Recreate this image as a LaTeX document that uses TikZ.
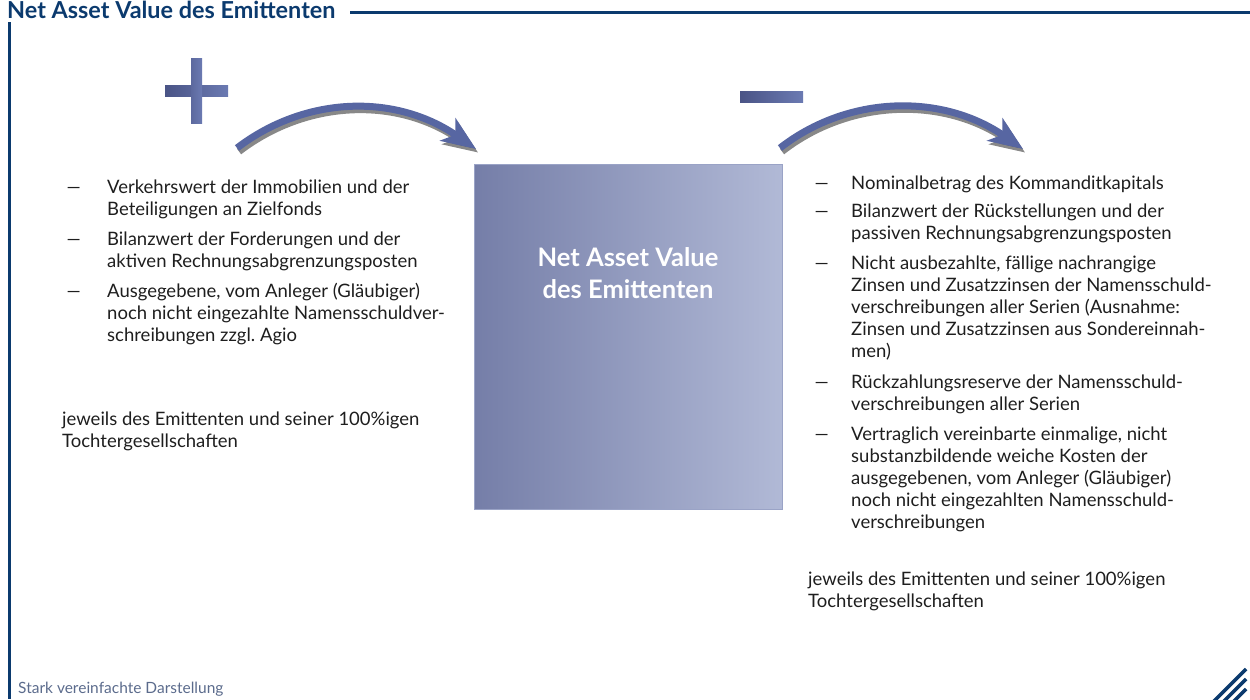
\documentclass[tikz,border=0pt]{standalone}
\usepackage{fontspec}
\setmainfont{Lato}
\usepackage{xcolor}
\usepackage{graphicx}
\usetikzlibrary{arrows.meta, positioning}

\definecolor{navyline}{HTML}{0B3A6E}
\definecolor{arrowblue}{HTML}{5766A2}
\definecolor{barleft}{HTML}{4A5486}
\definecolor{barright}{HTML}{6B7AB2}
\definecolor{boxleft}{HTML}{757EA8}
\definecolor{boxright}{HTML}{B1B9D6}
\definecolor{boxedge}{HTML}{9AA3C6}
\definecolor{bodytext}{HTML}{1E1E1E}
\definecolor{notegray}{HTML}{5B6B8C}

% lines of one item, first baseline is the node's base
\newcommand{\stack}[2][l]{\begin{tabular}[t]{@{}#1@{}}#2\end{tabular}}
\newcommand{\longdash}{\scalebox{1.6}[1]{\textendash}}

\begin{document}
\begin{tikzpicture}[
    x=1pt, y=-1pt,
    title/.style={anchor=base west, inner sep=0pt,
                  font=\fontsize{23.4}{26}\selectfont\bfseries, text=navyline},
    frame/.style={draw=navyline, line width=2.5pt},
    itemtext/.style={anchor=base west, inner sep=0pt,
                     font=\fontsize{18.5}{22}\selectfont, text=bodytext},
    dashmark/.style={itemtext},
    bar/.style={left color=barleft, right color=barright},
    navbox/.style={draw=boxedge, line width=1pt, left color=boxleft, right color=boxright,
                   minimum width=308pt, minimum height=345pt, inner sep=0pt},
    navlabel/.style={anchor=base, inner sep=0pt,
                     font=\fontsize{25.5}{32}\selectfont\bfseries, text=white},
    bigarrow/.style={draw=arrowblue, line width=7pt,
                     -{Stealth[length=34pt, width=27pt, inset=9pt]}},
    arrowshadow/.style={bigarrow, draw=black!85, opacity=0.55,
                        transform canvas={shift={(2pt,-3.5pt)}}},
    note/.style={anchor=base west, inner sep=0pt,
                 font=\fontsize{15.5}{18}\selectfont, text=notegray},
    logo/.style={draw=navyline, line width=3.5pt}
]
\useasboundingbox (0,0) rectangle (1250,699);

% =========================================================
% FRAME: title, rules, note and logo
% =========================================================
\node[title] (title) at (7,18.5) {Net Asset Value des Emittenten};
\draw[frame] (350,12.3) -- (1250,12.3);
\draw[frame] (9.7,22) -- (9.7,699);

\node[note] (note) at (18,693) {Stark vereinfachte Darstellung};

\draw[logo] (1213,702) -- (1246,669);
\draw[logo] (1223,702) -- (1246,679);
\draw[logo] (1233,702) -- (1246,689);

% =========================================================
% CENTRE: the net asset value block
% =========================================================
\node[navbox] (nav) at (628,336.5) {};
\node[navlabel] (navtext) at (628,266) {\stack[c]{Net Asset Value\\des Emittenten}};

% plus / minus signs
\shade[bar] (165,85) rectangle (228,96);
\shade[left color=barleft!45!barright, right color=barright] (191,58) rectangle (202,123);
\shade[bar] (740,91) rectangle (803,102);

% =========================================================
% ARROWS
% =========================================================
\coordinate (p1s) at (237,148);
\coordinate (p1e) at (476,149);
\coordinate (m1s) at (780,148);
\coordinate (m1e) at (1023,149);

\draw[arrowshadow] (p1s) .. controls (305,96) and (395,93) .. (p1e);
\draw[bigarrow]    (p1s) .. controls (305,96) and (395,93) .. (p1e);
\draw[arrowshadow] (m1s) .. controls (848,95) and (942,93) .. (m1e);
\draw[bigarrow]    (m1s) .. controls (848,95) and (942,93) .. (m1e);

% =========================================================
% LEFT: assets
% =========================================================
\node[itemtext] (l1) at (107,193)
    {\stack{Verkehrswert der Immobilien und der\\Beteiligungen an Zielfonds}};
\node[itemtext, below=8pt of l1.south west, anchor=north west] (l2)
    {\stack{Bilanzwert der Forderungen und der\\aktiven Rechnungsabgrenzungsposten}};
\node[itemtext, below=8pt of l2.south west, anchor=north west] (l3)
    {\stack{Ausgegebene, vom Anleger (Gläubiger)\\noch nicht eingezahlte Namensschuldver-\\schreibungen zzgl.\ Agio}};

\node[dashmark] (ld1) at ([xshift=-42pt]l1.base west) {\longdash};
\node[dashmark] (ld2) at ([xshift=-42pt]l2.base west) {\longdash};
\node[dashmark] (ld3) at ([xshift=-42pt]l3.base west) {\longdash};

\node[itemtext] (lnote) at (62,425)
    {\stack{jeweils des Emittenten und seiner 100\%igen\\Tochtergesellschaften}};

% =========================================================
% RIGHT: liabilities
% =========================================================
\node[itemtext] (r1) at (851,189) {\stack{Nominalbetrag des Kommanditkapitals}};
\node[itemtext, below=6pt of r1.south west, anchor=north west] (r2)
    {\stack{Bilanzwert der Rückstellungen und der\\passiven Rechnungsabgrenzungsposten}};
\node[itemtext, below=8pt of r2.south west, anchor=north west] (r3)
    {\stack{Nicht ausbezahlte, fällige nachrangige\\Zinsen und Zusatzzinsen der Namensschuld-\\verschreibungen aller Serien (Ausnahme:\\Zinsen und Zusatzzinsen aus Sondereinnah-\\men)}};
\node[itemtext, below=8pt of r3.south west, anchor=north west] (r4)
    {\stack{Rückzahlungsreserve der Namensschuld-\\verschreibungen aller Serien}};
\node[itemtext, below=8pt of r4.south west, anchor=north west] (r5)
    {\stack{Vertraglich vereinbarte einmalige, nicht\\substanzbildende weiche Kosten der\\ausgegebenen, vom Anleger (Gläubiger)\\noch nicht eingezahlten Namensschuld-\\verschreibungen}};

\node[dashmark] (rd1) at ([xshift=-38pt]r1.base west) {\longdash};
\node[dashmark] (rd2) at ([xshift=-38pt]r2.base west) {\longdash};
\node[dashmark] (rd3) at ([xshift=-38pt]r3.base west) {\longdash};
\node[dashmark] (rd4) at ([xshift=-38pt]r4.base west) {\longdash};
\node[dashmark] (rd5) at ([xshift=-38pt]r5.base west) {\longdash};

\node[itemtext] (rnote) at (808,585)
    {\stack{jeweils des Emittenten und seiner 100\%igen\\Tochtergesellschaften}};

\end{tikzpicture}
\end{document}
